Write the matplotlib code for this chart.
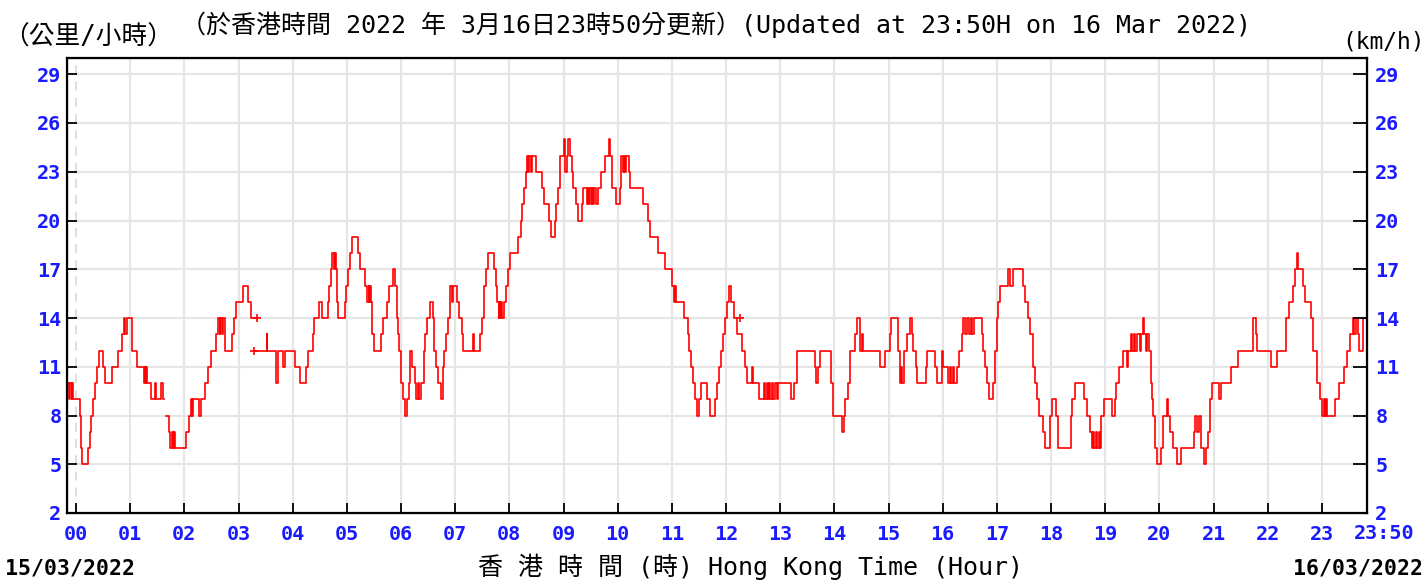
import numpy as np
import matplotlib
matplotlib.use("Agg")
import matplotlib.pyplot as plt
from matplotlib import transforms

# (minutes from 00:00 16/03/2022, wind speed km/h), one list per unbroken stretch of record
seg_a = [(-10, 10), (-8, 9), (-7, 10), (-5, 9), (-4, 10), (-3, 9), (4, 8), (5, 6), (7, 5), (13, 6), (15, 7),
         (17, 8), (19, 9), (21, 10), (23, 11), (25, 12), (30, 11), (32, 10), (40, 11), (46, 12), (51, 13),
         (53, 14), (54, 13), (56, 14), (60, 14), (62, 12), (68, 11), (75, 10), (76, 11), (77, 10), (78, 11),
         (79, 10), (83, 9), (88, 10), (89, 9), (94, 10), (96, 9), (97.5, 9)]

seg_b = [(100, 8), (103, 7), (104, 6), (106, 7), (107, 6), (108, 7), (110, 6), (122, 7), (125, 8), (127, 9),
         (129, 8), (130, 9), (136, 8), (138, 9), (143, 10), (146, 11), (150, 12), (155, 13), (157, 14),
         (159, 13), (160, 14), (162, 13), (163, 14), (165, 12), (173, 13), (175, 14), (177, 15), (185, 16),
         (190, 15), (194, 14), (200, 14)]

# 03:17 - 09:30
seg_c = [(197, 12), (210, 12), (211, 13), (212, 12), (221, 11), (222, 10), (224, 12), (229, 11), (231, 12),
         (243, 11), (248, 10), (255, 11), (257, 12), (262, 13), (264, 14), (269, 15), (272, 14), (279, 15),
         (280, 16), (282, 17), (284, 18), (286, 17), (287, 18), (288, 17), (289, 15), (290, 14), (298, 15),
         (299, 16), (301, 17), (304, 18), (306, 19), (312, 18), (314, 17), (320, 16), (322, 15), (324, 16),
         (325, 15), (326, 16), (327, 15), (328, 13), (330, 12), (338, 13), (340, 14), (344, 15), (347, 16),
         (351, 17), (353, 16), (355, 14), (357, 13), (358, 12), (360, 10), (362, 9), (364, 8), (367, 9),
         (369, 10), (370, 12), (372, 11), (375, 10), (377, 9), (379, 10), (380, 9), (382, 10), (385, 12),
         (387, 13), (389, 14), (392, 15), (395, 14), (397, 12), (399, 11), (401, 10), (404, 9), (406, 11),
         (408, 12), (410, 13), (412, 14), (414, 16), (416, 15), (418, 16), (422, 15), (424, 14), (427, 13),
         (429, 12), (440, 13), (441, 12), (448, 13), (450, 14), (452, 16), (454, 17), (456, 18), (461, 18),
         (463, 17), (465, 16), (466, 15), (468, 14), (469, 15), (470, 14), (471, 15), (472, 14), (474, 15),
         (476, 16), (478, 17), (481, 18), (490, 19), (493, 20), (494, 21), (496, 22), (498, 23), (499, 24),
         (501, 23), (502, 24), (504, 23), (505, 24), (509, 23), (516, 22), (518, 21), (524, 20), (526, 19),
         (530, 20), (532, 21), (534, 22), (536, 24), (540, 25), (542, 23), (544, 24), (545, 25), (547, 24),
         (549, 23), (551, 22), (554, 21), (556, 20), (560, 21), (562, 22), (566, 21), (567, 22)]

# 09:30 - 16:00
seg_d = [(568, 21), (569, 22), (571, 21), (572, 22), (573, 21), (574, 22), (576, 21), (578, 22), (581, 23),
         (586, 24), (590, 25), (591, 24), (594, 22), (598, 21), (603, 22), (604, 24), (606, 23), (607, 24),
         (608, 23), (609, 24), (612, 23), (614, 22), (628, 21), (634, 20), (636, 19), (645, 18), (652, 17),
         (660, 16), (662, 15), (664, 16), (665, 15), (673, 14), (678, 13), (679, 12), (681, 11), (683, 10),
         (686, 9), (688, 8), (690, 9), (692, 10), (699, 9), (702, 8), (708, 9), (710, 10), (712, 11),
         (714, 12), (717, 13), (719, 14), (721, 15), (723, 16), (725, 15), (729, 14), (732, 13), (738, 12),
         (741, 11), (743, 10), (749, 11), (750, 10), (757, 9), (762, 10), (763, 9), (765, 10), (766, 9),
         (768, 10), (769, 9), (771, 10), (772, 9), (774, 10), (776, 9), (778, 10), (790, 10), (792, 9),
         (795, 10), (799, 12), (817, 12), (819, 11), (820, 10), (822, 11), (824, 12), (834, 12), (836, 10),
         (838, 8), (848, 8), (849, 7), (851, 8), (852, 9), (855, 10), (857, 12), (863, 13), (865, 14),
         (868, 12), (871, 13), (872, 12), (891, 11), (896, 12), (902, 13), (903, 14), (910, 12), (913, 10),
         (914, 11), (915, 10), (917, 12), (921, 13), (924, 14), (926, 13), (927, 12), (930, 11), (932, 10),
         (941, 11), (943, 12), (950, 12), (952, 11), (954, 10)]

# 16:00 - 23:50
seg_e = [(959, 12), (960, 11), (966, 10), (968, 11), (969, 10), (971, 11), (972, 10), (976, 11), (978, 12),
         (981, 13), (983, 14), (985, 13), (987, 14), (989, 13), (991, 14), (993, 13), (995, 14), (1003, 13),
         (1005, 12), (1007, 11), (1009, 10), (1011, 9), (1016, 10), (1018, 12), (1020, 14), (1021, 15),
         (1024, 16), (1031, 16), (1032, 17), (1034, 16), (1038, 17), (1047, 17), (1049, 16), (1051, 15),
         (1054, 14), (1057, 13), (1060, 11), (1062, 10), (1064, 9), (1067, 8), (1071, 7), (1073, 6),
         (1079, 8), (1081, 9), (1086, 8), (1088, 6), (1101, 6), (1102, 8), (1103, 9), (1106, 10), (1115, 10),
         (1117, 9), (1120, 8), (1123, 7), (1125, 6), (1127, 7), (1128, 6), (1130, 7), (1131, 6), (1133, 7),
         (1134, 6), (1135, 8), (1139, 9), (1148, 8), (1151, 9), (1152, 10), (1155, 11), (1160, 12),
         (1164, 11), (1165, 12), (1169, 13), (1170, 12), (1172, 13), (1173, 12), (1175, 13), (1178, 12),
         (1180, 13), (1182, 14), (1183, 13), (1185, 12), (1186, 13), (1189, 12), (1191, 10), (1192, 9),
         (1193, 8), (1195, 6), (1197, 5), (1202, 6), (1204, 8), (1208, 9), (1210, 8), (1212, 7), (1215, 6),
         (1220, 5), (1224, 6), (1238, 7), (1240, 8), (1242, 7), (1244, 8), (1246, 6), (1249, 5), (1252, 6),
         (1254, 7), (1256, 9), (1258, 10), (1266, 9), (1268, 10), (1279, 11), (1287, 12), (1304, 14),
         (1307, 13), (1308, 12), (1324, 11), (1330, 12), (1340, 14), (1344, 15), (1348, 16), (1350, 17),
         (1353, 18), (1354, 17), (1359, 16), (1361, 15), (1368, 14), (1370, 12), (1375, 10), (1378, 9),
         (1380, 8), (1382, 9), (1383, 8), (1385, 9), (1386, 8), (1395, 9), (1399, 10), (1404, 11),
         (1408, 12), (1411, 13), (1414, 14), (1416, 13), (1418, 14), (1420, 13), (1421, 12), (1426, 14),
         (1430, 14)]

# isolated readings drawn as "+"
mark_t = [200, 197, 735]
mark_v = [14, 12, 14]

hour_ticks = list(range(0, 1440, 60))
hour_labels = ["%02d" % h for h in range(24)]
y_ticks = [2, 5, 8, 11, 14, 17, 20, 23, 26, 29]

blue = "#1a1aff"
mono = "DejaVu Sans Mono"
cjk = [mono, "Noto Sans CJK TC"]
tick_fs = 14.5

fig = plt.figure(figsize=(14.28, 5.8), dpi=100)
ax = fig.add_axes([67 / 1428, 1 - 513 / 580, 1300 / 1428, 455 / 580])

for seg in [seg_a, seg_b, seg_c + seg_d + seg_e]:
    tt, vv = zip(*seg)
    ax.plot(tt, vv, color="red", lw=1.2, drawstyle="steps-post")
ax.plot(mark_t, mark_v, ls="none", marker="+", ms=6, mew=1.2, color="red")

ax.set_xlim(-10, 1430)
ax.set_ylim(2, 30)

# grid
for y in y_ticks[1:]:
    ax.axhline(y, color="#e6e6e6", lw=1.6, zorder=0)
for x in hour_ticks[1:]:
    ax.axvline(x, color="#e6e6e6", lw=1.6, zorder=0)
ax.axvline(0, color="#dcdcdc", lw=1.3, ls=(0, (5, 4)), zorder=0)

ax.set_xticks(hour_ticks + [1430])
ax.set_xticklabels(hour_labels + [""])
ax.set_yticks(y_ticks)
ax.tick_params(axis="both", direction="in", length=7, width=1.3, colors="black", labelcolor=blue)
ax.tick_params(axis="x", pad=9)
ax.tick_params(axis="y", pad=4)
for lab in ax.get_xticklabels() + ax.get_yticklabels():
    lab.set_fontfamily(mono)
    lab.set_fontweight("bold")
    lab.set_fontsize(tick_fs)
for s in ax.spines.values():
    s.set_linewidth(1.6)

ax2 = ax.twinx()
ax2.set_ylim(2, 30)
ax2.set_yticks(y_ticks)
ax2.tick_params(axis="y", direction="in", length=10, width=1.3, labelcolor=blue, pad=6)
for lab in ax2.get_yticklabels():
    lab.set_fontfamily(mono)
    lab.set_fontweight("bold")
    lab.set_fontsize(tick_fs)

# last label 23:50, shifted right of its tick, level with the hour labels
off = transforms.offset_copy(ax.get_xaxis_transform(), fig=fig, x=17, y=0, units="dots")
ax.text(1430, -0.046, "23:50", transform=off, ha="center", va="center",
        color=blue, fontfamily=mono, fontweight="bold", fontsize=tick_fs)

fig.text(716 / 1428, 1 - 25 / 580, "（於香港時間 2022 年 3月16日23時50分更新）(Updated at 23:50H on 16 Mar 2022)",
         ha="center", va="center", fontsize=18, family=cjk)
fig.text(3 / 1428, 1 - 38 / 580, "（公里/小時）", ha="left", va="center", fontsize=18.5, family=cjk)
fig.text(1425 / 1428, 1 - 42 / 580, "(km/h)", ha="right", va="center", fontsize=16.5, family=cjk)
fig.text(751 / 1428, 1 - 567 / 580, "香 港 時 間 (時) Hong Kong Time (Hour)", ha="center", va="center",
         fontsize=18, family=cjk)
fig.text(5 / 1428, 1 - 568 / 580, "15/03/2022", ha="left", va="center", fontsize=15.5,
         fontweight="bold", family=mono)
fig.text(1423 / 1428, 1 - 568 / 580, "16/03/2022", ha="right", va="center", fontsize=15.5,
         fontweight="bold", family=mono)

fig.savefig("out.png", dpi=100)
